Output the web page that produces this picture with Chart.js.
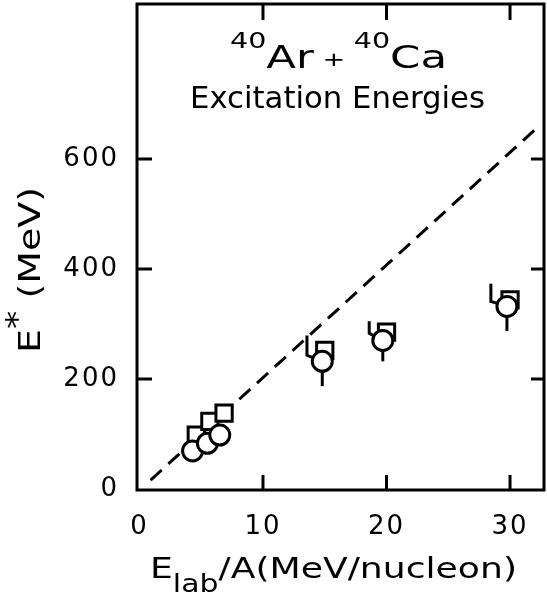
<!DOCTYPE html>
<html>
<head>
<meta charset="utf-8">
<script src="https://cdn.jsdelivr.net/npm/chart.js"></script>
<style>
  body { margin: 0; background: #fff; }
</style>
</head>
<body>
<canvas id="grafico" width="547" height="600"></canvas>
<script>
// valores
const circleX = [4.3, 5.5, 6.5, 14.8, 19.7, 29.75];
const circleY = [69, 83, 98, 232, 270, 332];
const squareX = [4.6, 5.7, 6.85, 15.0, 20.0, 30.0];
const squareY = [98, 123, 138, 252, 285, 344];
const errLow = [null, null, null, 187, 232, 287];
const hookX = [null, null, null, 13.56, 18.6, 28.45];
const hookTop = [null, null, null, 279, 305, 373];
const hookBottom = [null, null, null, 243, 283, 341];
const lineX = [0.9, 32];
const lineY = [16, 653];
const xTicks = [0, 10, 20, 30];
const yTicks = [0, 200, 400, 600];

const FONTE = '"DejaVu Sans", sans-serif';

function pontos(xs, ys){
  return xs.map((x, i) => ({ x: x, y: ys[i] }));
}

// escreve um texto em pedaços (sobrescrito / subscrito), esticado até a largura pedida
function escrever(ctx, partes, cx, y, largura){
  let total = 0;
  partes.forEach(p => {
    ctx.font = p.s + 'px ' + FONTE;
    p.w = ctx.measureText(p.t).width;
    total += p.w;
  });
  const sx = largura ? largura / total : 1;
  ctx.save();
  ctx.translate(cx - total * sx / 2, y);
  ctx.scale(sx, 1);
  ctx.textAlign = 'left';
  ctx.textBaseline = 'alphabetic';
  let x = 0;
  partes.forEach(p => {
    ctx.font = p.s + 'px ' + FONTE;
    ctx.fillText(p.t, x, p.dy || 0);
    x += p.w;
  });
  ctx.restore();
}

const moldura = {
  id: 'moldura',
  beforeDraw(chart){
    chart.ctx.letterSpacing = '2px';
  },
  beforeDatasetsDraw(chart){
    const ctx = chart.ctx;
    const xs = chart.scales.x, ys = chart.scales.y;
    ctx.save();
    ctx.strokeStyle = '#000';
    ctx.lineWidth = 3;
    circleX.forEach((cx, i) => {
      const px = xs.getPixelForValue(cx), py = ys.getPixelForValue(circleY[i]);
      if (errLow[i] !== null) {
        ctx.beginPath();
        ctx.moveTo(px, py);
        ctx.lineTo(px, ys.getPixelForValue(errLow[i]));
        ctx.stroke();
      }
      if (hookX[i] !== null) {
        const hx = xs.getPixelForValue(hookX[i]);
        ctx.beginPath();
        ctx.moveTo(hx, ys.getPixelForValue(hookTop[i]));
        ctx.lineTo(hx, ys.getPixelForValue(hookBottom[i]));
        ctx.lineTo(px, py);
        ctx.stroke();
      }
    });
    ctx.restore();
  },
  afterDraw(chart){
    const ctx = chart.ctx;
    const a = chart.chartArea;
    const xs = chart.scales.x, ys = chart.scales.y;
    ctx.save();
    ctx.strokeStyle = '#000';
    ctx.fillStyle = '#000';
    ctx.lineWidth = 3;
    ctx.strokeRect(a.left, a.top, a.right - a.left, a.bottom - a.top);

    // marcas para dentro nos quatro lados
    ctx.beginPath();
    xTicks.slice(1).forEach(v => {
      const px = xs.getPixelForValue(v);
      ctx.moveTo(px, a.bottom); ctx.lineTo(px, a.bottom - 15);
      ctx.moveTo(px, a.top); ctx.lineTo(px, a.top + 16);
    });
    yTicks.slice(1).forEach(v => {
      const py = ys.getPixelForValue(v);
      ctx.moveTo(a.left, py); ctx.lineTo(a.left + 15, py);
      ctx.moveTo(a.right, py); ctx.lineTo(a.right - 13, py);
    });
    ctx.stroke();

    ctx.letterSpacing = '0px';
    // título dentro do gráfico
    escrever(ctx, [
      { t: '40', s: 21, dy: -20 },
      { t: 'Ar', s: 32 },
      { t: ' + ', s: 20, dy: -2 },
      { t: '40', s: 21, dy: -20 },
      { t: 'Ca', s: 32 }
    ], 338.5, 68, 217);
    escrever(ctx, [{ t: 'Excitation Energies', s: 30 }], 337.5, 108, 295);

    // título do eixo x
    escrever(ctx, [
      { t: 'E', s: 29 },
      { t: 'lab', s: 24, dy: 14 },
      { t: '/A(MeV/nucleon)', s: 29 }
    ], 333.5, 578, 367);

    // título do eixo y
    ctx.translate(40, 270);
    ctx.rotate(-Math.PI / 2);
    escrever(ctx, [
      { t: 'E', s: 31 },
      { t: '*', s: 30, dy: -13 },
      { t: ' (MeV)', s: 31 }
    ], 0, 0, 166);
    ctx.restore();
  }
};

new Chart(document.getElementById('grafico'), {
  type: 'scatter',
  data: {
    datasets: [
      {
        label: 'circles',
        data: pontos(circleX, circleY),
        pointStyle: 'circle',
        pointRadius: 10,
        borderWidth: 3,
        borderColor: '#000',
        backgroundColor: '#fff',
        order: 0
      },
      {
        label: 'squares',
        data: pontos(squareX, squareY),
        pointStyle: 'rect',
        pointRadius: 11.5,
        borderWidth: 3,
        borderColor: '#000',
        backgroundColor: '#fff',
        order: 1
      },
      {
        type: 'line',
        label: 'dashed',
        data: pontos(lineX, lineY),
        borderColor: '#000',
        borderWidth: 3,
        borderDash: [15, 9],
        pointRadius: 0,
        fill: false,
        order: 2
      }
    ]
  },
  options: {
    responsive: false,
    animation: false,
    layout: { autoPadding: false, padding: { top: 4, right: 3, left: 0, bottom: 0 } },
    plugins: {
      legend: { display: false },
      tooltip: { enabled: false }
    },
    scales: {
      x: {
        type: 'linear',
        min: -0.2,
        max: 32.75,
        grid: { display: false },
        border: { display: false },
        afterBuildTicks: s => { s.ticks = xTicks.map(v => ({ value: v })); },
        afterFit: s => {
          s.height = 110;
          s.paddingLeft = 0; s.paddingRight = 0;
        },
        ticks: {
          autoSkip: false,
          maxRotation: 0,
          color: '#000',
          padding: 14,
          font: { family: FONTE, size: 26 }
        }
      },
      y: {
        type: 'linear',
        min: -2,
        max: 882,
        grid: { display: false },
        border: { display: false },
        afterBuildTicks: s => { s.ticks = yTicks.map(v => ({ value: v })); },
        afterFit: s => {
          s.width = 137;
          s.paddingTop = 0; s.paddingBottom = 0;
        },
        ticks: {
          autoSkip: false,
          color: '#000',
          padding: 10,
          font: { family: FONTE, size: 26 }
        }
      }
    }
  },
  plugins: [moldura]
});
</script>
</body>
</html>
